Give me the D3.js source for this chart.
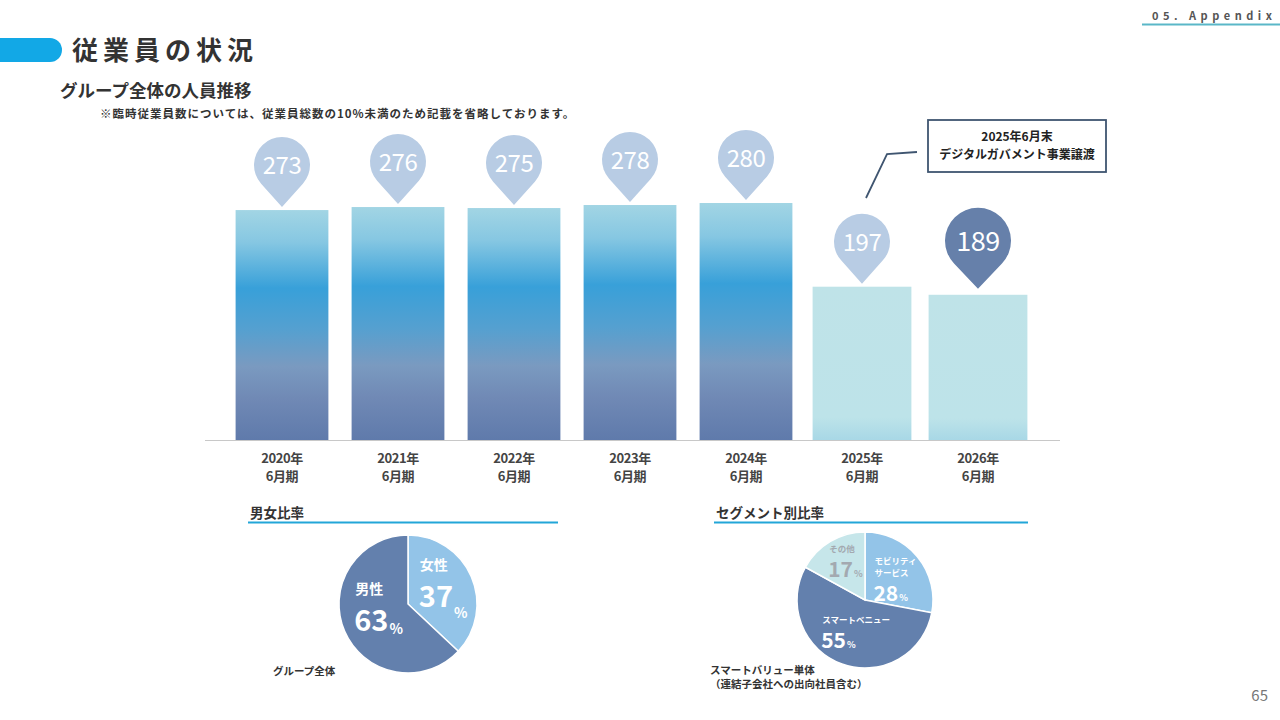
<!DOCTYPE html>
<html>
<head>
<meta charset="utf-8">
<script src="https://cdn.jsdelivr.net/npm/d3@7"></script>
<style>
  html, body { margin: 0; padding: 0; background: #fff; }
  svg { display: block; }
  text { font-family: "Noto Sans CJK JP", "Noto Sans", sans-serif; }
</style>
</head>
<body>
<div id="chart-container"></div>
<script>
/**************************************************
 * Data
 **************************************************/

const years = ["2020年", "2021年", "2022年", "2023年", "2024年", "2025年", "2026年"];
const periodLabel = "6月期";
const headcount = [273, 276, 275, 278, 280, 197, 189];

const genderLabels = ["女性", "男性"];
const genderShares = [37, 63];

const segmentLabels = [["モビリティ", "サービス"], ["スマートベニュー"], ["その他"]];
const segmentShares = [28, 55, 17];

/**************************************************
 * Rendering
 **************************************************/

const W = 1280, H = 720;
const svg = d3.select("#chart-container")
  .append("svg")
  .attr("width", W)
  .attr("height", H);

const defs = svg.append("defs");

// ---- page header
svg.append("path")
  .attr("d", "M0,38 H50 A12,12 0 0 1 50,62 H0 Z")
  .attr("fill", "#12a8e6");

svg.append("text")
  .attr("x", 72).attr("y", 60)
  .attr("font-size", 26).attr("font-weight", "bold")
  .attr("letter-spacing", 5)
  .attr("fill", "#333")
  .text("従業員の状況");

svg.append("text")
  .attr("x", 60).attr("y", 97)
  .attr("font-size", 17.5).attr("font-weight", "bold")
  .attr("fill", "#333")
  .text("グループ全体の人員推移");

svg.append("text")
  .attr("x", 100).attr("y", 118)
  .attr("font-size", 11.5).attr("font-weight", "bold")
  .attr("letter-spacing", 1)
  .attr("fill", "#333")
  .text("※臨時従業員数については、従業員総数の10%未満のため記載を省略しております。");

svg.append("text")
  .attr("x", 1152).attr("y", 20)
  .attr("font-family", "Noto Sans, sans-serif")
  .attr("font-size", 11).attr("font-weight", "bold")
  .attr("letter-spacing", 4.5)
  .attr("fill", "#555")
  .text("05. Appendix");

svg.append("line")
  .attr("x1", 1142).attr("x2", 1280)
  .attr("y1", 24.5).attr("y2", 24.5)
  .attr("stroke", "#5ab7c8").attr("stroke-width", 2);

svg.append("text")
  .attr("x", 1268).attr("y", 701)
  .attr("text-anchor", "end")
  .attr("font-family", "DejaVu Sans Condensed, sans-serif")
  .attr("font-size", 15)
  .attr("fill", "#777")
  .text("65");

// ---- bar chart
const baseY = 440;
const x = d3.scaleBand()
  .domain(years)
  .range([224, 1036])
  .paddingInner(0.2)
  .paddingOuter(0.1);

const y = d3.scaleLinear()
  .domain([45, 280])
  .range([baseY, 203]);

const barGrad = defs.append("linearGradient")
  .attr("id", "bar-grad")
  .attr("x1", "0%").attr("y1", "0%")
  .attr("x2", "0%").attr("y2", "100%");
[[0, "#a2d5e4"], [0.14, "#86c7e2"], [0.34, "#38a0d9"], [0.52, "#55a0d0"], [0.68, "#7a9ac0"], [0.82, "#7089b5"], [1, "#5f7aab"]]
  .forEach(([o, c]) => barGrad.append("stop").attr("offset", o).attr("stop-color", c));

const paleGrad = defs.append("linearGradient")
  .attr("id", "pale-grad")
  .attr("x1", "0%").attr("y1", "0%")
  .attr("x2", "0%").attr("y2", "100%");
[[0, "#bfe3e8"], [0.85, "#bde3e9"], [1, "#a8d8e6"]]
  .forEach(([o, c]) => paleGrad.append("stop").attr("offset", o).attr("stop-color", c));

svg.append("g")
  .selectAll("rect")
  .data(headcount)
  .join("rect")
  .attr("x", (d, i) => x(years[i]) + (i >= 5 ? -3 : 0))
  .attr("y", d => y(d))
  .attr("width", (d, i) => x.bandwidth() + (i >= 5 ? 6 : 0))
  .attr("height", d => baseY - y(d))
  .attr("fill", (d, i) => i >= 5 ? "url(#pale-grad)" : "url(#bar-grad)");

svg.append("line")
  .attr("x1", 205).attr("x2", 1060)
  .attr("y1", baseY + 0.5).attr("y2", baseY + 0.5)
  .attr("stroke", "#c8c8c8").attr("stroke-width", 1.2);

// category labels
const xLabels = svg.append("g")
  .selectAll("text")
  .data(years)
  .join("text")
  .attr("x", d => x(d) + x.bandwidth() / 2)
  .attr("y", 463)
  .attr("text-anchor", "middle")
  .attr("font-size", 13).attr("font-weight", "bold")
  .attr("letter-spacing", -0.4)
  .attr("fill", "#444");
xLabels.append("tspan").text(d => d);
xLabels.append("tspan")
  .attr("x", d => x(d) + x.bandwidth() / 2)
  .attr("dy", 18)
  .text(periodLabel);

// value pins
function pinPath(cx, cy, r, tipY) {
  const d = tipY - cy;
  const b = Math.acos(r / d);
  const tx = r * Math.sin(b), ty = r * Math.cos(b);
  return `M${cx},${tipY} L${cx + tx},${cy + ty} A${r},${r} 0 1 0 ${cx - tx},${cy + ty} Z`;
}

const pins = svg.append("g")
  .selectAll("g")
  .data(headcount)
  .join("g");

pins.each(function(d, i) {
  const g = d3.select(this);
  const last = i === headcount.length - 1;
  const cx = x(years[i]) + x.bandwidth() / 2;
  const top = y(d);
  const r = last ? 33 : 28;
  const cy = top - (last ? 54 : 45);
  const tip = top - (last ? 6 : 3);
  g.append("path")
    .attr("d", pinPath(cx, cy, r, tip))
    .attr("fill", last ? "#6680aa" : "#b8cce4");
  g.append("text")
    .attr("x", cx).attr("y", cy + (last ? 10 : 9))
    .attr("text-anchor", "middle")
    .attr("font-family", "DejaVu Sans Condensed, sans-serif")
    .attr("font-size", last ? 27 : 24)
    .attr("letter-spacing", -0.5)
    .attr("fill", "#fff")
    .text(d);
});

// annotation
svg.append("rect")
  .attr("x", 928).attr("y", 120)
  .attr("width", 178).attr("height", 52)
  .attr("fill", "#fff")
  .attr("stroke", "#3f5570").attr("stroke-width", 1.8);

svg.append("text")
  .attr("x", 1017).attr("y", 141)
  .attr("text-anchor", "middle")
  .attr("font-size", 12).attr("font-weight", "bold")
  .attr("fill", "#222")
  .text("2025年6月末");

svg.append("text")
  .attr("x", 1017).attr("y", 159)
  .attr("text-anchor", "middle")
  .attr("font-size", 12).attr("font-weight", "bold")
  .attr("fill", "#222")
  .text("デジタルガバメント事業譲渡");

svg.append("path")
  .attr("d", "M917,152 L887,154 L866,198")
  .attr("fill", "none")
  .attr("stroke", "#3f5570").attr("stroke-width", 1.8);

// ---- pies
function sectionHeader(label, x0, x1) {
  svg.append("text")
    .attr("x", x0 + 2).attr("y", 518)
    .attr("font-size", 13.5).attr("font-weight", "bold")
    .attr("fill", "#333")
    .text(label);
  svg.append("line")
    .attr("x1", x0).attr("x2", x1)
    .attr("y1", 522.5).attr("y2", 522.5)
    .attr("stroke", "#22a6d8").attr("stroke-width", 2);
}

sectionHeader("男女比率", 248, 558);
sectionHeader("セグメント別比率", 714, 1028);

const pie = d3.pie().sort(null).value(d => d);

// gender pie
const gCx = 408, gCy = 604, gR = 69;
const genderColors = ["#93c4e8", "#6380ad"];
const genderArc = d3.arc().innerRadius(0).outerRadius(gR);
const genderPie = svg.append("g").attr("transform", `translate(${gCx},${gCy})`);
const gArcs = pie(genderShares);

genderPie.selectAll("path")
  .data(gArcs)
  .join("path")
  .attr("d", genderArc)
  .attr("fill", (d, i) => genderColors[i])
  .attr("stroke", "#fff").attr("stroke-width", 1.5);

const genderLabelArc = d3.arc().innerRadius(gR * 0.55).outerRadius(gR * 0.55);
const genderOffsets = [[-23, 1, 11], [-18, -5, 3]];
gArcs.forEach((a, i) => {
  const [lx, ly] = genderLabelArc.centroid(a);
  const [ox, oy, pdy] = genderOffsets[i];
  genderPie.append("text")
    .attr("x", lx + ox).attr("y", ly + oy - 20)
    .attr("font-size", 14).attr("font-weight", "bold")
    .attr("fill", "#fff")
    .text(genderLabels[i]);
  const t = genderPie.append("text")
    .attr("x", lx + ox - 1).attr("y", ly + oy + 17)
    .attr("font-family", "Noto Sans, sans-serif")
    .attr("font-weight", "bold")
    .attr("fill", "#fff");
  t.append("tspan").attr("font-size", 29).text(genderShares[i]);
  t.append("tspan").attr("font-size", 14).attr("dy", pdy).attr("dx", 1).text("%");
});

svg.append("text")
  .attr("x", 273).attr("y", 675)
  .attr("font-size", 10.5).attr("font-weight", "bold")
  .attr("fill", "#333")
  .text("グループ全体");

// segment pie
const sCx = 865, sCy = 600, sR = 68;
const segmentColors = ["#93c4e8", "#6380ad", "#c6e6ea"];
const segmentTextColors = ["#fff", "#fff", "#a3a9b0"];
const segmentArc = d3.arc().innerRadius(0).outerRadius(sR);
const segPie = svg.append("g").attr("transform", `translate(${sCx},${sCy})`);
const sArcs = pie(segmentShares);

segPie.selectAll("path")
  .data(sArcs)
  .join("path")
  .attr("d", segmentArc)
  .attr("fill", (d, i) => segmentColors[i])
  .attr("stroke", "#fff").attr("stroke-width", 1.5);

const segLabelArc = d3.arc().innerRadius(sR * 0.6).outerRadius(sR * 0.6);
const segOffsets = [[-22, -10], [-29, -15], [-15, -13]];
sArcs.forEach((a, i) => {
  const [lx, ly] = segLabelArc.centroid(a);
  const [ox, oy] = segOffsets[i];
  const lines = segmentLabels[i];
  lines.forEach((s, k) => {
    segPie.append("text")
      .attr("x", lx + ox).attr("y", ly + oy + k * 12)
      .attr("font-size", 8.5).attr("font-weight", "bold")
      .attr("fill", segmentTextColors[i])
      .text(s);
  });
  const t = segPie.append("text")
    .attr("x", lx + ox - 1).attr("y", ly + oy + (lines.length - 1) * 12 + 25)
    .attr("font-family", "Noto Sans, sans-serif")
    .attr("font-weight", "bold")
    .attr("fill", segmentTextColors[i]);
  t.append("tspan").attr("font-size", 21).text(segmentShares[i]);
  t.append("tspan").attr("font-size", 9).attr("dx", 1).text("%");
});

svg.append("text")
  .attr("x", 710).attr("y", 674)
  .attr("font-size", 10.5).attr("font-weight", "bold")
  .attr("fill", "#333")
  .text("スマートバリュー単体");

svg.append("text")
  .attr("x", 710).attr("y", 688)
  .attr("font-size", 10.5).attr("font-weight", "bold")
  .attr("fill", "#333")
  .text("（連結子会社への出向社員含む）");
</script>
</body>
</html>
